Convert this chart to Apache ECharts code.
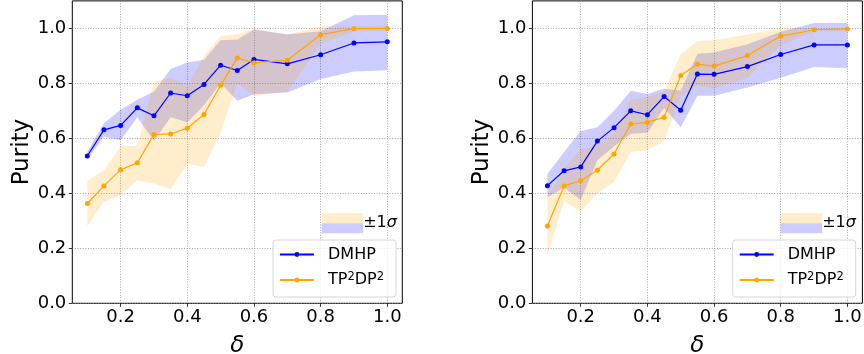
<!DOCTYPE html>
<html><head><meta charset="utf-8">
<script src="https://cdn.jsdelivr.net/npm/echarts@6/dist/echarts.min.js"></script>
<style>html,body{margin:0;padding:0;background:#fff}#c{width:864px;height:354px}</style>
</head><body><div id="c"></div>
<script>
const deltas = [0.1,0.15,0.2,0.25,0.3,0.35,0.4,0.45,0.5,0.55,0.6,0.7,0.8,0.9,1.0];
const xTicks = [0.2,0.4,0.6,0.8,1.0];
const yTicks = [0,0.2,0.4,0.6,0.8,1.0];
const seriesNames = ['DMHP','TP²DP²'];

// Left panel
const leftDmhpMean  = [0.536,0.631,0.647,0.711,0.682,0.765,0.755,0.796,0.866,0.847,0.887,0.871,0.904,0.947,0.951];
const leftDmhpLower = [0.522,0.607,0.593,0.677,0.590,0.677,0.659,0.720,0.800,0.737,0.760,0.767,0.816,0.843,0.848];
const leftDmhpUpper = [0.552,0.655,0.704,0.740,0.770,0.852,0.876,0.886,0.957,0.960,0.996,0.978,0.990,1.048,1.050];
const leftTpMean    = [0.363,0.427,0.486,0.511,0.614,0.616,0.637,0.687,0.793,0.892,0.875,0.884,0.977,0.999,1.000];
const leftTpLower   = [0.280,0.370,0.394,0.448,0.436,0.414,0.508,0.496,0.620,0.800,0.755,0.770,0.942,0.990,0.992];
const leftTpUpper   = [0.446,0.484,0.572,0.572,0.806,0.820,0.790,0.900,0.972,0.980,0.998,0.978,1.006,1.008,1.008];

// Right panel
const rightDmhpMean  = [0.428,0.482,0.496,0.590,0.639,0.700,0.686,0.752,0.702,0.834,0.833,0.861,0.905,0.940,0.940];
const rightDmhpLower = [0.386,0.420,0.376,0.520,0.570,0.617,0.620,0.710,0.640,0.755,0.755,0.785,0.820,0.860,0.855];
const rightDmhpUpper = [0.470,0.550,0.627,0.640,0.700,0.773,0.761,0.780,0.774,0.908,0.912,0.942,0.988,1.020,1.020];
const rightTpMean    = [0.281,0.427,0.446,0.484,0.543,0.652,0.658,0.677,0.829,0.870,0.863,0.901,0.972,0.995,0.998];
const rightTpLower   = [0.177,0.372,0.333,0.400,0.442,0.550,0.557,0.590,0.750,0.790,0.780,0.820,0.940,0.990,0.990];
const rightTpUpper   = [0.385,0.490,0.560,0.570,0.620,0.740,0.750,0.770,0.906,0.954,0.957,0.978,1.000,1.000,1.000];

const BLUE = '#0000ff', ORANGE = '#ffa500';
const FONT = 'DejaVu Sans';

function band(gi, lower, upper, color) {
  return {
    type: 'custom', xAxisIndex: gi, yAxisIndex: gi, silent: true, z: 1, clip: true,
    data: deltas.map((d, i) => [d, lower[i], upper[i]]),
    encode: { x: 0, y: [1, 2] },
    renderItem: function (params, api) {
      if (params.dataIndex !== 0) return null;
      const top = deltas.map((d, i) => api.coord([d, upper[i]]));
      const bot = deltas.map((d, i) => api.coord([d, lower[i]])).reverse();
      return { type: 'polygon', shape: { points: top.concat(bot) }, style: { fill: color } };
    }
  };
}
function line(gi, name, mean, color, z) {
  return {
    type: 'line', name: name, xAxisIndex: gi, yAxisIndex: gi, z: z,
    data: deltas.map((d, i) => [d, mean[i]]),
    symbol: 'circle', symbolSize: 5, showSymbol: true,
    lineStyle: { color: color, width: 1.2 }, itemStyle: { color: color },
    emphasis: { disabled: true }
  };
}
const grids = [
  { left: 72.3, width: 330, top: 0.9, height: 302.4 },
  { left: 532.4, width: 330, top: 0.9, height: 302.4 }
];
function xAxis(gi) {
  return {
    type: 'value', gridIndex: gi, min: 0.055, max: 1.045,
    name: 'δ', nameLocation: 'middle', nameGap: 31,
    nameTextStyle: { fontFamily: FONT, fontSize: 23, fontStyle: 'italic', color: '#000' },
    axisLine: { show: false },
    axisTick: { show: true, inside: false, length: 3.5, customValues: xTicks, lineStyle: { color: '#000', width: 0.8 } },
    axisLabel: { customValues: xTicks, fontFamily: FONT, fontSize: 18, color: '#000', margin: 5,
      formatter: v => v.toFixed(1) },
    splitLine: { show: true, lineStyle: { color: '#8a8a8a', type: [1, 1.6], width: 0.8 } }
  };
}
function yAxis(gi) {
  return {
    type: 'value', gridIndex: gi, min: 0, max: 1.1,
    name: 'Purity', nameLocation: 'middle', nameGap: 38, nameRotate: 90,
    nameTextStyle: { fontFamily: FONT, fontSize: 23, color: '#000' },
    axisLine: { show: false },
    axisTick: { show: true, inside: false, length: 3.5, customValues: yTicks, lineStyle: { color: '#000', width: 0.8 } },
    axisLabel: { customValues: yTicks, fontFamily: FONT, fontSize: 18, color: '#000', margin: 6,
      formatter: v => v.toFixed(1) },
    splitLine: { show: true, lineStyle: { color: '#8a8a8a', type: [1, 1.6], width: 0.8 } }
  };
}
function legend(left) {
  return {
    orient: 'vertical', left: left, top: 240, data: seriesNames, selectedMode: false,
    itemWidth: 34, itemHeight: 6, itemGap: 8.5,
    formatter: name => name === 'TP²DP²' ? 'TP{s|2}DP{s|2}' : name,
    textStyle: { fontFamily: FONT, fontSize: 16, color: '#000', lineHeight: 16, padding: [0, 0, 0, 9],
      rich: { s: { fontFamily: FONT, fontSize: 11.5, lineHeight: 16, padding: [0, 0, 6, 0], color: '#000' } } },
    backgroundColor: 'rgba(255,255,255,0.8)', borderColor: '#d6d6d6', borderWidth: 1, borderRadius: 3,
    padding: [6.5, 12, 8, 6]
  };
}
function sigmaKey(x) {
  return [
    { type: 'rect', left: x, top: 213.3, shape: { width: 41.5, height: 10 }, style: { fill: 'rgba(255,165,0,0.2)' }, z: 100 },
    { type: 'rect', left: x, top: 223.3, shape: { width: 41.5, height: 10 }, style: { fill: 'rgba(0,0,255,0.2)' }, z: 100 },
    { type: 'text', x: x + 41.5, y: 223.3, z: 100,
      style: { text: '±1{i|σ}', font: '16px "DejaVu Sans"', fill: '#000', verticalAlign: 'middle',
        rich: { i: { fontStyle: 'italic', fontFamily: FONT, fontSize: 16 } } } }
  ];
}
const chart = echarts.init(document.getElementById('c'), null, { renderer: 'canvas' });
chart.setOption({
  animation: false,
  backgroundColor: '#ffffff',
  grid: grids.map(g => Object.assign({ show: true, borderColor: '#000', borderWidth: 1, backgroundColor: 'transparent',
    containLabel: false, outerBoundsMode: 'none' }, g)),
  xAxis: [xAxis(0), xAxis(1)],
  yAxis: [yAxis(0), yAxis(1)],
  legend: [legend(273), legend(732.7)],
  graphic: sigmaKey(321.7).concat(sigmaKey(780.7)),
  series: [
    band(0, leftDmhpLower, leftDmhpUpper, 'rgba(0,0,255,0.2)'),
    band(0, leftTpLower, leftTpUpper, 'rgba(255,165,0,0.2)'),
    line(0, 'DMHP', leftDmhpMean, BLUE, 3),
    line(0, 'TP²DP²', leftTpMean, ORANGE, 4),
    band(1, rightDmhpLower, rightDmhpUpper, 'rgba(0,0,255,0.2)'),
    band(1, rightTpLower, rightTpUpper, 'rgba(255,165,0,0.2)'),
    line(1, 'DMHP', rightDmhpMean, BLUE, 3),
    line(1, 'TP²DP²', rightTpMean, ORANGE, 4)
  ]
});
</script></body></html>
